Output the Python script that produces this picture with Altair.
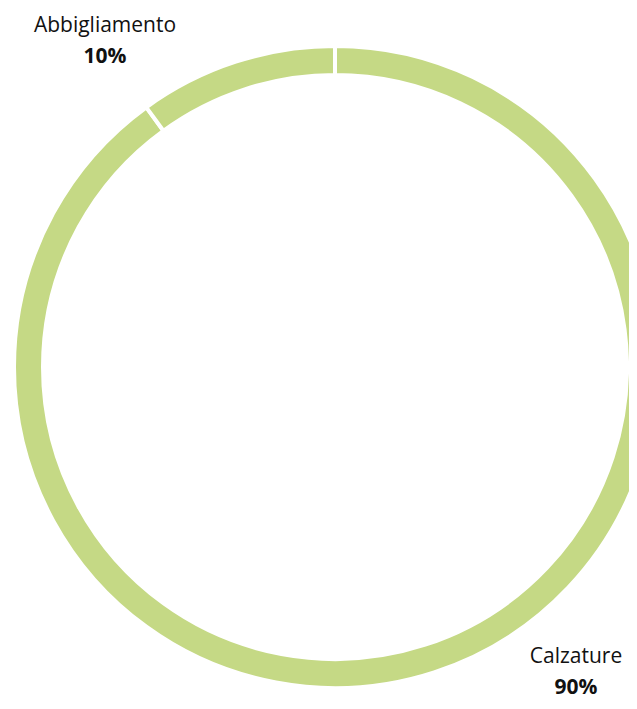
import altair as alt
import pandas as pd

categories = ["Calzature", "Abbigliamento"]
values = [90, 10]
labels = ["90%", "10%"]

df = pd.DataFrame({"categoria": categories, "valore": values, "etichetta": labels, "ordine": [0, 1]})

GREEN = "#c5d985"
FONT = "Open Sans"

arc = alt.Chart(df).mark_arc(
    outerRadius=321, innerRadius=292, stroke="white", strokeWidth=4, color=GREEN
).encode(
    theta=alt.Theta("valore:Q", stack=True),
    order=alt.Order("ordine:Q"),
    x=alt.value(327),
    y=alt.value(359),
)

def label(cat, xpos, ypos):
    base = alt.Chart(df).transform_filter(alt.datum.categoria == cat)
    name = base.mark_text(font=FONT, fontSize=21, color="#111111", align="center", baseline="alphabetic").encode(
        text="categoria:N", x=alt.value(xpos), y=alt.value(ypos)
    )
    pct = base.mark_text(font=FONT, fontSize=21, fontWeight="bold", color="#111111", align="center", baseline="alphabetic").encode(
        text="etichetta:N", x=alt.value(xpos), y=alt.value(ypos + 31)
    )
    return name + pct

chart = alt.layer(
    arc,
    label("Abbigliamento", 97, 24),
    label("Calzature", 568, 655),
).properties(
    width=621, height=693, padding=0, autosize=alt.AutoSizeParams(type="none")
).configure_view(stroke=None)

chart.save("out.html", embed_options={"renderer": "svg", "actions": False})
